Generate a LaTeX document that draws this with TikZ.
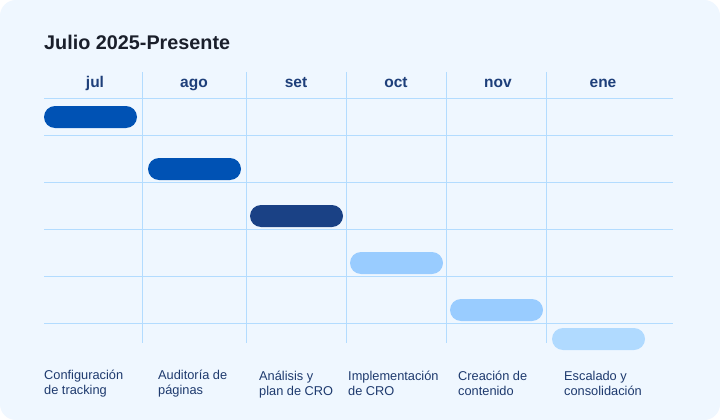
\documentclass[tikz,border=0pt]{standalone}
\usepackage{fontspec}
\setmainfont{Liberation Sans}
\definecolor{bgc}{HTML}{EFF7FF}
\definecolor{gridc}{HTML}{B3DCFF}
\definecolor{titlec}{HTML}{1A1F2B}
\definecolor{monthc}{HTML}{1E3F7A}
\definecolor{labc}{HTML}{1E3A6E}
\definecolor{barA}{HTML}{0052B4}
\definecolor{barB}{HTML}{1A4185}
\definecolor{barC}{HTML}{99CCFF}
\definecolor{barD}{HTML}{B0DAFF}
\begin{document}
\begin{tikzpicture}[x=1pt,y=-1pt,
  gridline/.style={draw=gridc,line width=1pt},
  month/.style={text=monthc,font=\fontsize{15.5}{18}\selectfont\bfseries,inner sep=0pt,anchor=base},
  bar/.style={rounded corners=11pt,minimum width=93pt,minimum height=22pt,inner sep=0pt},
  lab/.style={text=labc,font=\fontsize{12.8}{15}\selectfont,align=left,anchor=west,inner sep=0pt}]
\useasboundingbox (0,0) rectangle (720,420);
\fill[white] (0,0) rectangle (720,420);
\fill[bgc,rounded corners=16pt] (0,0) rectangle (720,420);
\node[anchor=base west,inner sep=0pt,text=titlec,font=\fontsize{19.8}{22}\selectfont\bfseries] (title) at (44,49.5) {Julio 2025-Presente};
% grid
\foreach \y in {98,135,182,229,276,323} \draw[gridline] (44,\y) -- (673,\y);
\foreach \x in {142.5,246.5,346.5,446.5,546.5} \draw[gridline] (\x,72) -- (\x,343);
% months
\node[month] (m1) at (95,87.3) {jul};
\node[month] (m2) at (194,87.3) {ago};
\node[month] (m3) at (296,87.3) {set};
\node[month] (m4) at (396,87.3) {oct};
\node[month] (m5) at (498,87.3) {nov};
\node[month] (m6) at (603,87.3) {ene};
% bars
\node[bar,fill=barA] (b1) at (90.5,117) {};
\node[bar,fill=barA] (b2) at (194.5,169) {};
\node[bar,fill=barB] (b3) at (296.5,216) {};
\node[bar,fill=barC] (b4) at (396.5,263) {};
\node[bar,fill=barC] (b5) at (496.5,310) {};
\node[bar,fill=barD] (b6) at (598.5,339) {};
% labels
\node[lab] (l1) at (44,383.5) {Configuración\\de tracking};
\node[lab] (l2) at (158,383.5) {Auditoría de\\páginas};
\node[lab] (l3) at (259,385) {Análisis y\\plan de CRO};
\node[lab] (l4) at (348,383.5) {Implementación\\de CRO};
\node[lab] (l5) at (458,383.5) {Creación de\\contenido};
\node[lab] (l6) at (564,383.5) {Escalado y\\consolidación};
\end{tikzpicture}
\end{document}
